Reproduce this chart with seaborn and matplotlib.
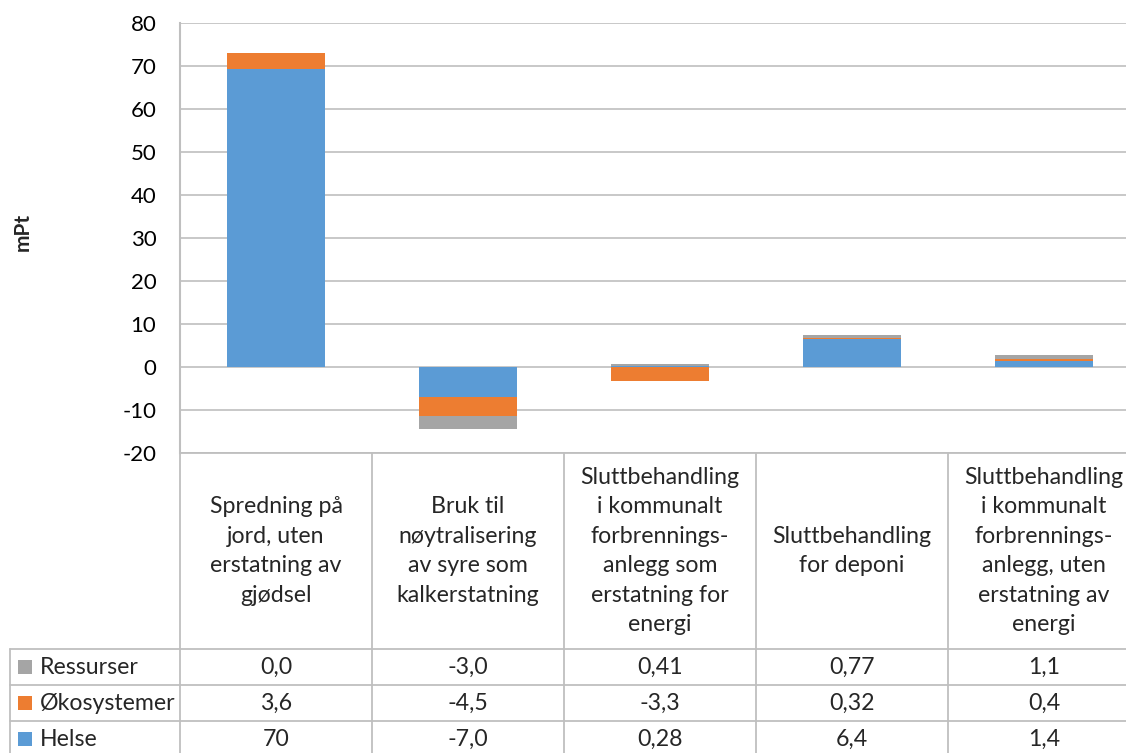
import matplotlib
matplotlib.use("Agg")
import matplotlib.pyplot as plt
import seaborn as sns
import numpy as np
import pandas as pd

# ---------------- data ----------------
categories = [
    "Spredning på\njord, uten\nerstatning av\ngjødsel",
    "Bruk til\nnøytralisering\nav syre som\nkalkerstatning",
    "Sluttbehandling\ni kommunalt\nforbrennings-\nanlegg som\nerstatning for\nenergi",
    "Sluttbehandling\nfor deponi",
    "Sluttbehandling\ni kommunalt\nforbrennings-\nanlegg, uten\nerstatning av\nenergi",
]
helse = [69.4, -7.0, 0.28, 6.4, 1.4]
okosystemer = [3.6, -4.5, -3.3, 0.32, 0.4]
ressurser = [0.0, -3.0, 0.41, 0.77, 1.1]

helse_labels = ["70", "-7,0", "0,28", "6,4", "1,4"]
oko_labels = ["3,6", "-4,5", "-3,3", "0,32", "0,4"]
res_labels = ["0,0", "-3,0", "0,41", "0,77", "1,1"]

series_names = ["Helse", "Økosystemer", "Ressurser"]
yticks = list(range(-20, 81, 10))
y_label = "mPt"

BLUE = "#5B9BD5"
ORANGE = "#ED7D31"
GRAY = "#A5A5A5"
LINE = "#BFBFBF"

sns.set_style("white")
plt.rcParams["font.family"] = ["Lato", "DejaVu Sans"]

W, H = 1126, 753
fig = plt.figure(figsize=(W / 100, H / 100), dpi=100)
ax = fig.add_axes([180 / W, 300 / H, 946 / W, 430 / H])

cat_ids = [f"c{i}" for i in range(len(categories))]
series = [(series_names[0], helse, BLUE),
          (series_names[1], okosystemer, ORANGE),
          (series_names[2], ressurser, GRAY)]

pos = np.zeros(len(categories))
neg = np.zeros(len(categories))
for name, vals, col in series:
    v = np.asarray(vals, dtype=float)
    bottom = np.where(v >= 0, pos, neg)
    df = pd.DataFrame({"cat": cat_ids, "val": v})
    sns.barplot(data=df, x="cat", y="val", order=cat_ids, color=col,
                saturation=1, width=0.51, errorbar=None, linewidth=0,
                bottom=bottom, ax=ax, zorder=3)
    pos = np.where(v >= 0, pos + v, pos)
    neg = np.where(v < 0, neg + v, neg)

ax.set_xlim(-0.5, -0.5 + 946 / 192)
ax.set_ylim(-20, 80)
ax.set_yticks(yticks)
ax.set_yticklabels([str(t) for t in yticks])
ax.set_xticks([])
ax.set_xlabel("")
ax.set_ylabel("")
ax.yaxis.grid(True, color=LINE, linewidth=1.2, zorder=0)
ax.set_axisbelow(True)
for s in ["top", "right", "bottom"]:
    ax.spines[s].set_visible(False)
ax.spines["left"].set_color(LINE)
ax.spines["left"].set_linewidth(1.5)
ax.tick_params(axis="y", length=0, pad=17, labelsize=16, labelcolor="#000000")

fig.text(23 / W, 1 - 232 / H, y_label, rotation=90, fontsize=15,
         fontweight="bold", ha="center", va="center")

# ---------------- data table ----------------
ov = fig.add_axes([0, 0, 1, 1])
ov.set_xlim(0, W)
ov.set_ylim(H, 0)
ov.axis("off")

fig.canvas.draw()
edges = [ax.transData.transform((i - 0.5, 0))[0] for i in range(len(categories) + 1)]
centers = [ax.transData.transform((i, 0))[0] for i in range(len(categories))]

top_y = 453
row_y = [649, 685, 721, H + 20]
fs = 16.7

# vertical lines
for xe in edges:
    ov.plot([xe, xe], [top_y, H], color=LINE, lw=1.3, clip_on=False)
ov.plot([10, 10], [row_y[0], H], color=LINE, lw=1.3)
# horizontal lines
ov.plot([edges[0], W], [top_y, top_y], color=LINE, lw=1.3)
for yy in row_y[:3]:
    ov.plot([10, W], [yy, yy], color=LINE, lw=1.3)

# category labels
for cx, lab in zip(centers, categories):
    ov.text(cx, (top_y + row_y[0]) / 2, lab, ha="center", va="center",
            fontsize=fs, linespacing=1.5, multialignment="center")

rows = [(series_names[2], res_labels, GRAY),
        (series_names[1], oko_labels, ORANGE),
        (series_names[0], helse_labels, BLUE)]
for r, (name, labs, col) in enumerate(rows):
    yc = (row_y[r] + min(row_y[r + 1], row_y[r] + 36)) / 2
    ov.add_patch(plt.Rectangle((18, yc - 7), 14, 14, color=col, lw=0))
    ov.text(40, yc, name, ha="left", va="center", fontsize=fs)
    for cx, t in zip(centers, labs):
        ov.text(cx, yc, t, ha="center", va="center", fontsize=fs)

fig.savefig("out.png", dpi=100)
